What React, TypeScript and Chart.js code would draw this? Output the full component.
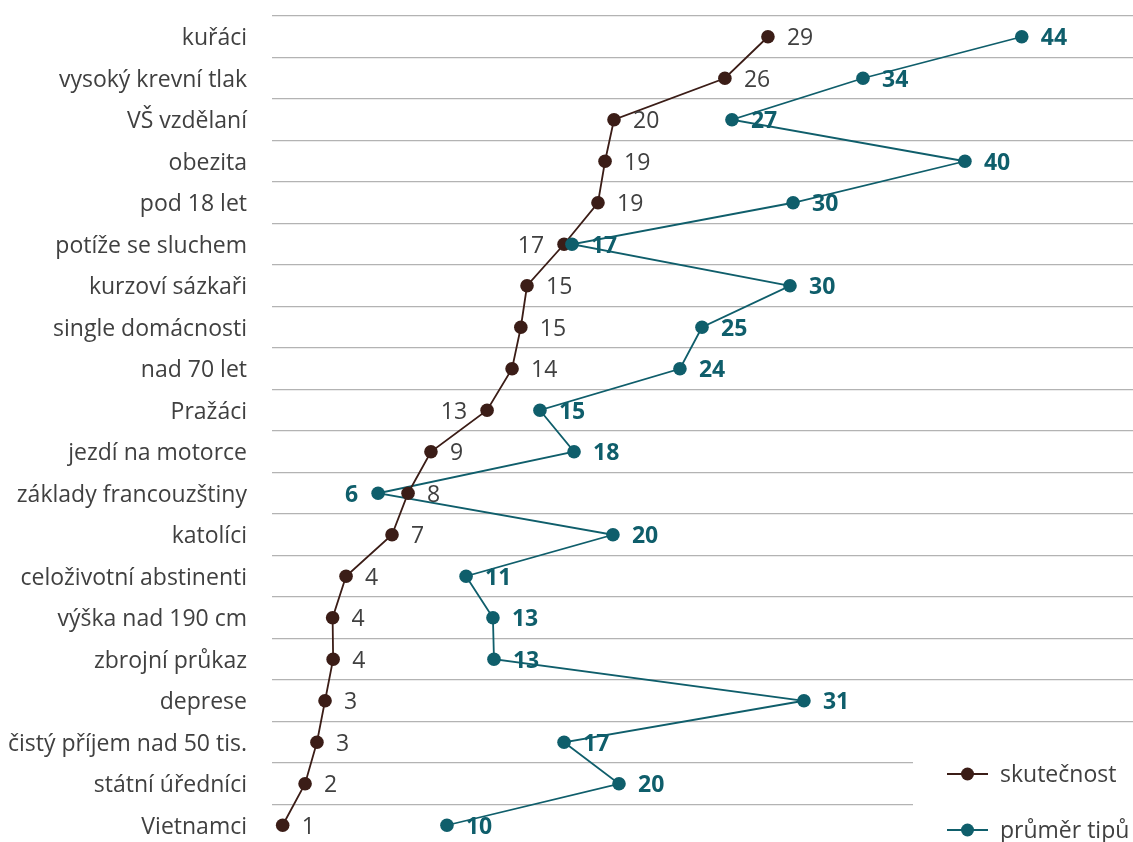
import React, { useEffect, useRef } from "react";
import { Chart, registerables } from "chart.js";

Chart.register(...registerables);

const categories = [
  "kuřáci",
  "vysoký krevní tlak",
  "VŠ vzdělaní",
  "obezita",
  "pod 18 let",
  "potíže se sluchem",
  "kurzoví sázkaři",
  "single domácnosti",
  "nad 70 let",
  "Pražáci",
  "jezdí na motorce",
  "základy francouzštiny",
  "katolíci",
  "celoživotní abstinenti",
  "výška nad 190 cm",
  "zbrojní průkaz",
  "deprese",
  "čistý příjem nad 50 tis.",
  "státní úředníci",
  "Vietnamci",
];

// skutečnost (actual share, %)
const actualValues = [
  28.8, 26.3, 19.86, 19.34, 18.93, 16.96, 14.81, 14.45, 13.94, 12.49, 9.23, 7.9,
  6.97, 4.3, 3.52, 3.55, 3.08, 2.61, 1.92, 0.62,
];
const actualLabels = [29, 26, 20, 19, 19, 17, 15, 15, 14, 13, 9, 8, 7, 4, 4, 4, 3, 3, 2, 1];

// průměr tipů (average guess, %)
const guessValues = [
  43.54, 34.32, 26.71, 40.24, 30.26, 17.42, 30.08, 24.97, 23.69, 15.56, 17.54, 6.16,
  19.8, 11.27, 12.83, 12.89, 30.89, 16.96, 20.15, 10.16,
];
const guessLabels = [44, 34, 27, 40, 30, 17, 30, 25, 24, 15, 18, 6, 20, 11, 13, 13, 31, 17, 20, 10];

const seriesNames = ["skutečnost", "průměr tipů"];

const BROWN = "#3b1d17";
const TEAL = "#0f5e6b";
const TEXT = "#404040";
const FONT = "'Open Sans', 'Noto Sans', sans-serif";
const FS = 23;

const W = 1133;
const H = 846;

export default function App() {
  const ref = useRef<HTMLCanvasElement | null>(null);

  useEffect(() => {
    if (!ref.current) return;

    const leftActual = new Set([5, 9]);
    const leftGuess = new Set([11]);

    const labelPlugin = {
      id: "pointLabels",
      beforeDatasetsDraw(chart: any) {
        const ctx = chart.ctx;
        // legend box covers grid lines
        ctx.save();
        ctx.fillStyle = "#ffffff";
        ctx.fillRect(913, 742, W - 913, H - 742);
        ctx.restore();
      },
      afterDatasetsDraw(chart: any) {
        const ctx = chart.ctx;
        ctx.save();
        ctx.textBaseline = "middle";
        const aMeta = chart.getDatasetMeta(2);
        aMeta.data.forEach((pt: any, i: number) => {
          ctx.font = `400 ${FS}px ${FONT}`;
          ctx.fillStyle = TEXT;
          const left = leftActual.has(i);
          ctx.textAlign = left ? "right" : "left";
          ctx.fillText(String(actualLabels[i]), pt.x + (left ? -20 : 19), pt.y + 2);
        });
        const gMeta = chart.getDatasetMeta(3);
        gMeta.data.forEach((pt: any, i: number) => {
          ctx.font = `700 ${FS}px ${FONT}`;
          ctx.fillStyle = TEAL;
          const left = leftGuess.has(i);
          ctx.textAlign = left ? "right" : "left";
          ctx.fillText(String(guessLabels[i]), pt.x + (left ? -20 : 19), pt.y + 2);
        });
        ctx.restore();
      },
      afterDraw(chart: any) {
        const ctx = chart.ctx;
        ctx.save();
        const items = [
          { name: seriesNames[0], color: BROWN, y: 774 },
          { name: seriesNames[1], color: TEAL, y: 830 },
        ];
        items.forEach((it) => {
          ctx.strokeStyle = it.color;
          ctx.lineWidth = 2;
          ctx.beginPath();
          ctx.moveTo(947, it.y);
          ctx.lineTo(988, it.y);
          ctx.stroke();
          ctx.fillStyle = it.color;
          ctx.beginPath();
          ctx.arc(967.5, it.y, 6.5, 0, Math.PI * 2);
          ctx.fill();
          ctx.fillStyle = TEXT;
          ctx.font = `400 ${FS}px ${FONT}`;
          ctx.textAlign = "left";
          ctx.textBaseline = "middle";
          ctx.fillText(it.name, 1000, it.y + 1);
        });
        ctx.restore();
      },
    };

    const lineDs = (data: number[], color: string, order: number) => ({
      label: "",
      data,
      borderColor: color,
      backgroundColor: color,
      borderWidth: 1.8,
      pointRadius: 0,
      pointHoverRadius: 0,
      showLine: true,
      order,
    });
    const pointDs = (data: number[], color: string, order: number) => ({
      label: "",
      data,
      borderColor: color,
      backgroundColor: color,
      borderWidth: 0,
      pointRadius: 6.8,
      pointBorderWidth: 0,
      showLine: false,
      order,
    });

    const chart = new Chart(ref.current, {
      type: "line",
      data: {
        labels: categories,
        datasets: [
          lineDs(actualValues, BROWN, 3),
          lineDs(guessValues, TEAL, 4),
          pointDs(actualValues, BROWN, 2),
          pointDs(guessValues, TEAL, 1),
        ],
      },
      plugins: [labelPlugin],
      options: {
        indexAxis: "y",
        animation: false,
        responsive: false,
        maintainAspectRatio: false,
        events: [],
        layout: { autoPadding: false, padding: { top: 16, right: 0, bottom: 0, left: 0 } },
        plugins: {
          legend: { display: false },
          tooltip: { enabled: false },
          title: { display: false },
        },
        scales: {
          x: {
            type: "linear",
            min: 0,
            max: 50,
            display: false,
          },
          y: {
            type: "category",
            offset: true,
            border: { display: false },
            grid: {
              offset: true,
              drawTicks: false,
              color: "#b3b3b3",
              lineWidth: 1.2,
            },
            ticks: {
              padding: 25,
              labelOffset: 2,
              color: TEXT,
              font: { family: FONT, size: FS },
              autoSkip: false,
            },
            afterFit(scale: any) {
              scale.width = 272;
              scale.paddingTop = 0;
              scale.paddingBottom = 0;
            },
          },
        },
      },
    } as any);

    return () => chart.destroy();
  }, []);

  return (
    <div
      style={{
        position: "fixed",
        left: 0,
        top: 0,
        width: W,
        height: 842,
        overflow: "hidden",
        background: "#fff",
      }}
    >
      <canvas ref={ref} width={W} height={H} style={{ display: "block", width: W, height: H }} />
    </div>
  );
}
